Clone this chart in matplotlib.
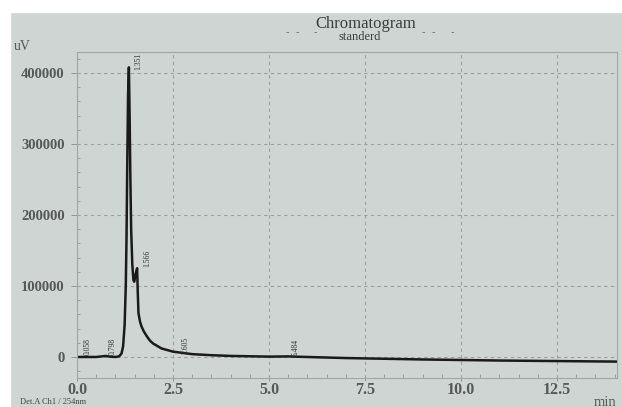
import numpy as np
import matplotlib.pyplot as plt
from matplotlib.ticker import MultipleLocator
from matplotlib.patches import Rectangle

# trace (min, uV)
time_min = [0.0, 0.5, 0.75, 0.85, 1.0, 1.10, 1.16, 1.20, 1.24, 1.27, 1.29, 1.31,
            1.33, 1.351, 1.37, 1.39, 1.41, 1.44, 1.47, 1.49, 1.52, 1.55, 1.566,
            1.58, 1.60, 1.64, 1.68, 1.74, 1.82, 1.90, 1.98, 2.2, 2.5, 3.0, 3.5,
            4.0, 5.0, 5.484, 6.0, 7.0, 9.0, 11.0, 14.06]
signal_uv = [0, 0, 1500, 500, 0, 1000, 5000, 15000, 45000, 100000, 170000, 280000,
             370000, 408000, 340000, 250000, 180000, 130000, 108000, 106000, 115000, 122000, 125000,
             95000, 62000, 50000, 43000, 36000, 29000, 23000, 19000, 12000, 7500, 4000, 2500,
             1500, 500, 800, 0, -1500, -3500, -5000, -6500]

# peak labels: text and where they sit on the photo
peak_text = ["0.058", "0.798", "1.351", "1.566", "2.605", "5.484"]
peak_x = [0.27, 0.93, 1.59, 1.83, 2.82, 5.69]
peak_y = [3000, 3000, 404000, 127000, 4000, 2000]

x_ticks = [0.0, 2.5, 5.0, 7.5, 10.0, 12.5]
y_ticks = [0, 100000, 200000, 300000, 400000]

paper = "#cfd5d3"
ink = "#1a1a1a"
grey = "#555a59"
serif = "Liberation Serif"

fig = plt.figure(figsize=(6.22, 4.07), dpi=100, facecolor=paper)
ax = fig.add_axes([77 / 622, 1 - 378 / 407, 540 / 622, 326 / 407])
ax.set_facecolor(paper)

ax.plot(time_min, signal_uv, color=ink, lw=1.8, solid_joinstyle="round")

for txt, xx, yy in zip(peak_text, peak_x, peak_y):
    ax.text(xx, yy, txt, rotation=90, ha="center", va="bottom",
            fontsize=5.5, family=serif, color="#333333")

ax.set_xlim(0, 14.06)
ax.set_ylim(-29600, 429600)
ax.set_xticks(x_ticks)
ax.set_xticklabels([f"{v:.1f}" for v in x_ticks])
ax.set_yticks(y_ticks)
ax.set_yticklabels([str(v) for v in y_ticks])
ax.xaxis.set_minor_locator(MultipleLocator(0.5))
ax.yaxis.set_minor_locator(MultipleLocator(20000))

for lab in ax.get_xticklabels():
    lab.set_family(serif)
    lab.set_fontsize(11.5)
    lab.set_color(grey)
    lab.set_fontweight("bold")
for lab in ax.get_yticklabels():
    lab.set_family(serif)
    lab.set_fontsize(10.5)
    lab.set_color(grey)
    lab.set_fontweight("bold")

ax.tick_params(axis="x", which="major", length=2, width=0.7, color="#8f9695", pad=1)
ax.tick_params(axis="y", which="major", length=4, width=0.7, color="#8f9695", pad=5)
ax.tick_params(axis="x", which="minor", direction="in", length=3, width=0.6, color="#8f9695")
ax.tick_params(axis="y", which="minor", direction="in", length=2, width=0.6, color="#8f9695")

ax.grid(True, which="major", color="#9aa2a0", lw=0.8, ls=(0, (3, 3)))
for s in ax.spines.values():
    s.set_color("#a0a7a5")
    s.set_linewidth(0.8)

fig.text(366 / 622, 1 - 24 / 407, "Chromatogram", ha="center", va="center",
         fontsize=12, family=serif, color="#3a3f3e")
fig.text(360 / 622, 1 - 37 / 407, "standerd", ha="center", va="center",
         fontsize=9, family=serif, color="#3a3f3e")
for dx in [287, 297, 315, 423, 433, 452]:
    fig.text(dx / 622, 1 - 32 / 407, "-", ha="center", va="center",
             fontsize=7, color="#6a706e")
fig.text(22 / 622, 1 - 47 / 407, "uV", ha="center", va="center",
         fontsize=10, family=serif, color=grey)
fig.text(605 / 622, 1 - 402 / 407, "min", ha="center", va="center",
         fontsize=10.5, family=serif, color=grey)
fig.text(20 / 622, 1 / 407, "Det.A Ch1 / 254nm", ha="left", va="bottom",
         fontsize=6, family=serif, color="#444")

# white border of the photo
fig.patches.append(Rectangle((0, 1 - 12 / 407), 1, 12 / 407, transform=fig.transFigure,
                             color="white", zorder=5))
fig.patches.append(Rectangle((0, 0), 10 / 622, 1, transform=fig.transFigure,
                             color="white", zorder=5))

fig.savefig("out.png", dpi=100, facecolor=paper)
